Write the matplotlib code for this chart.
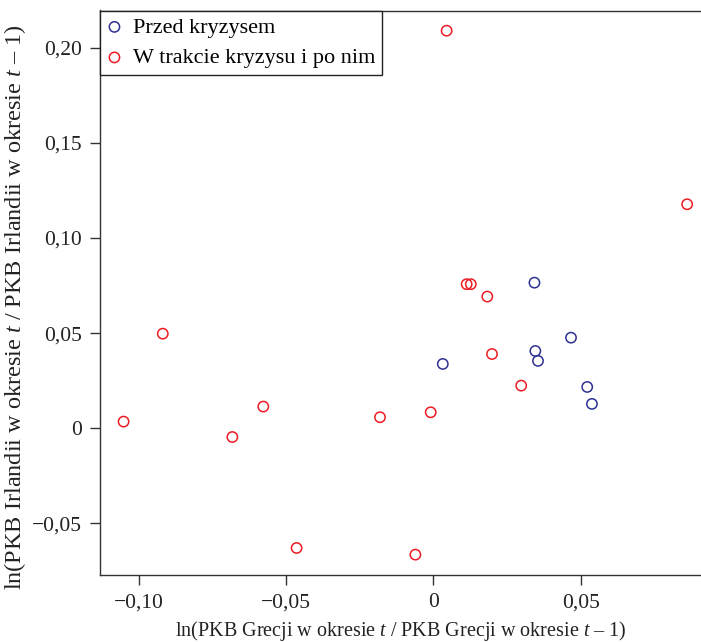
#wykres rozrzutu: wzrost PKB Grecji vs Irlandii
import matplotlib
matplotlib.use("Agg")
from matplotlib import pyplot as plt
from matplotlib.ticker import FixedLocator, FuncFormatter

#dane
przed_x = [0.0343, 0.0467, 0.0346, 0.0355, 0.0032, 0.0522, 0.0538]
przed_y = [0.0765, 0.0476, 0.0406, 0.0354, 0.0338, 0.0217, 0.0128]

po_x = [0.0045, 0.0861, 0.0113, 0.0127, 0.0183, 0.0199, 0.0298, -0.0009,
        -0.0918, -0.1051, -0.0577, -0.0682, -0.0181, -0.0464, -0.0061]
po_y = [0.2089, 0.1177, 0.0757, 0.0757, 0.0692, 0.0390, 0.0224, 0.0084,
        0.0497, 0.0035, 0.0114, -0.0046, 0.0058, -0.0629, -0.0664]

x_ticks = [-0.10, -0.05, 0, 0.05]
y_ticks = [-0.05, 0, 0.05, 0.10, 0.15, 0.20]

plt.rcParams['font.family'] = ['Liberation Serif', 'DejaVu Serif']
plt.rcParams['mathtext.fontset'] = 'custom'
plt.rcParams['mathtext.rm'] = 'Liberation Serif'
plt.rcParams['mathtext.it'] = 'Liberation Serif:italic'
plt.rcParams['font.size'] = 15

fig = plt.figure(figsize=(7.01, 6.42), dpi=100)
ax = fig.add_axes([100/701, 67/642, 601/701, (575-10.5)/642])

ax.scatter(przed_x, przed_y, s=55, facecolors='none', edgecolors='#2e3192',
           linewidths=1.1, label='Przed kryzysem', zorder=3)
ax.scatter(po_x, po_y, s=55, facecolors='none', edgecolors='#ed1c24',
           linewidths=1.1, label='W trakcie kryzysu i po nim', zorder=3)

ax.set_xlim(-0.1131, 0.0908)
ax.set_ylim(-0.0771, 0.2195)

def fmt(v, pos):
    if abs(v) < 1e-9:
        return '0'
    s = '%.2f' % abs(v)
    s = s.replace('.', ',')
    return ('\u2212' if v < 0 else '') + s

ax.xaxis.set_major_locator(FixedLocator(x_ticks))
ax.yaxis.set_major_locator(FixedLocator(y_ticks))
ax.xaxis.set_major_formatter(FuncFormatter(fmt))
ax.yaxis.set_major_formatter(FuncFormatter(fmt))
ax.tick_params(direction='out', length=7, width=1, color='#333333', pad=6,
               labelsize=15.5, labelcolor='#222222')

for sp in ax.spines.values():
    sp.set_linewidth(1)
    sp.set_color('#333333')
ax.spines['right'].set_visible(False)

ax.set_xlabel('ln(PKB Grecji w okresie $t$ / PKB Grecji w okresie $t$ \u2013 1)',
              fontsize=14.5, color='#222222')
ax.xaxis.set_label_coords(0.5, -0.078)
ax.set_ylabel('ln(PKB Irlandii w okresie $t$ / PKB Irlandii w okresie $t$ \u2013 1)',
              fontsize=17.5, color='#222222')
ax.yaxis.set_label_coords(-0.12, 0.475)

leg = ax.legend(loc='upper left', borderaxespad=0, fancybox=False, framealpha=1,
                edgecolor='#222222', handlelength=0.7, handletextpad=0.5,
                borderpad=0.3, labelspacing=0.45, fontsize=16)
leg.get_frame().set_linewidth(1)

plt.savefig('out.png', dpi=100)
